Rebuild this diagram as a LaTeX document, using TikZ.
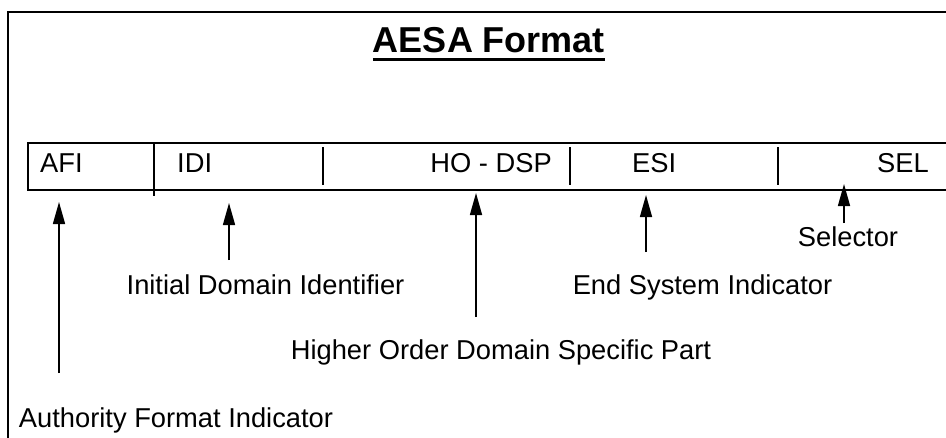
\documentclass[tikz,border=0pt]{standalone}
\usepackage{fontspec}
\setmainfont{Liberation Sans}
\usepackage{tikz}
\usetikzlibrary{arrows, arrows.meta}

\begin{document}
\begin{tikzpicture}[x=1pt, y=-1pt]
\tikzstyle{field}=[anchor=west, inner sep=0pt, font=\fontsize{27.3}{30}\selectfont, text height=19.5pt, text depth=0pt]
\tikzstyle{label}=[field, anchor=center]
\tikzstyle{pointer}=[line width=1.5pt, -{Triangle[width=12pt, length=22pt]}]
\useasboundingbox (0,0) rectangle (946,437);
% frame and title
\draw[line width=2pt] (8,450) -- (8,12) -- (960,12);
\node[anchor=center, inner sep=0pt, font=\fontsize{36}{40}\bfseries, text height=25pt, text depth=0pt] (title) at (489,39.5) {AESA Format};
\draw[line width=3pt] ([yshift=-7pt]title.south west) -- ([yshift=-7pt]title.south east);
% address fields
\draw[line width=2pt] (960,143) -- (28,143) -- (28,190) -- (960,190);
\draw[line width=1.5pt] (154,143) -- (154,196);
\draw[line width=1.5pt] (323,147) -- (323,185);
\draw[line width=1.5pt] (570,147) -- (570,185);
\draw[line width=1.5pt] (778,147) -- (778,185);
\node[field] (afi) at (40,163) {AFI};
\node[field] (idi) at (177,163) {IDI};
\node[field, anchor=east] (hodsp) at (552,163) {HO - DSP};
\node[field] (esi) at (632,163) {ESI};
\node[field] (sel) at (877,163) {SEL};
% descriptions
\node[label] (afiL) at (176,418) {Authority Format Indicator};
\node[label] (idiL) at (265.5,285) {Initial Domain Identifier};
\node[label] (hodspL) at (501,350) {Higher Order Domain Specific Part};
\node[label] (esiL) at (702.5,285) {End System Indicator};
\node[label] (selL) at (848,237) {Selector};
% pointers
\coordinate (afiT) at (59,373);   \coordinate (afiP) at (59,202);
\coordinate (idiT) at (229,260);  \coordinate (idiP) at (229,203);
\coordinate (hoT) at (476,317);   \coordinate (hoP) at (476,193);
\coordinate (esiT) at (646,252);  \coordinate (esiP) at (646,195);
\coordinate (selT) at (844,223);  \coordinate (selP) at (844,184);
\draw[pointer] (afiT) -- (afiP);
\draw[pointer] (idiT) -- (idiP);
\draw[pointer] (hoT) -- (hoP);
\draw[pointer] (esiT) -- (esiP);
\draw[pointer] (selT) -- (selP);
\end{tikzpicture}
\end{document}
